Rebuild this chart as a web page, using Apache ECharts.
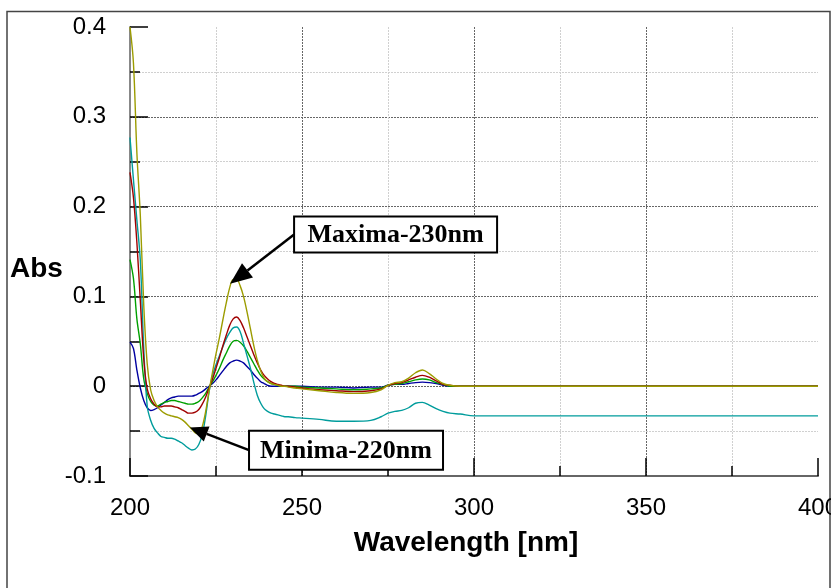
<!DOCTYPE html>
<html><head><meta charset="utf-8">
<script src="https://cdn.jsdelivr.net/npm/echarts@6/dist/echarts.min.js"></script>
<style>html,body{margin:0;padding:0;background:#fff}#c{width:831px;height:588px}</style>
</head><body><div id="c"></div>
<script>
// ---- data ----
const wavelengths = [200,201,202,203,204,205,206,207,208,209,210,211,212,213,214,215,216,217,218,219,220,221,222,223,224,225,226,227,228,229,230,231,232,233,234,235,236,237,238,239,240,241,242,243,244,245,246,
  248,250,255,260,265,270,273,275,277,279,281,283,285,287,289,291,293,296,300,325,350,375,400];
const blueAbs  = [0.049,0.042,0.018,-0.002,-0.016,-0.024,-0.027,-0.026,-0.024,-0.021,-0.018,-0.015,-0.013,-0.012,-0.011,-0.011,-0.011,-0.011,-0.011,-0.010,-0.008,-0.006,-0.003,0,0.003,0.007,0.012,0.017,0.022,0.026,0.028,0.029,0.028,0.026,0.022,0.018,0.013,0.009,0.005,0.003,0.001,0,0,0,0,0,0,
  0,0,-0.001,-0.001,-0.002,-0.001,-0.001,0.001,0.002,0.002,0.003,0.004,0.0045,0.004,0.003,0.001,0,0,0,0,0,0,0];
const greenAbs = [0.141,0.120,0.075,0.047,0.008,-0.008,-0.017,-0.021,-0.022,-0.020,-0.018,-0.017,-0.016,-0.016,-0.017,-0.018,-0.019,-0.020,-0.020,-0.019,-0.017,-0.013,-0.008,-0.001,0.005,0.012,0.020,0.029,0.037,0.045,0.050,0.051,0.049,0.045,0.039,0.032,0.025,0.018,0.012,0.008,0.005,0.003,0.002,0.001,0,0,0,
  0,-0.001,-0.002,-0.003,-0.004,-0.003,-0.002,0.001,0.002,0.003,0.005,0.007,0.008,0.007,0.004,0.002,0,0,0,0,0,0,0];
const tealAbs  = [0.277,0.230,0.185,0.140,0.042,-0.022,-0.038,-0.047,-0.052,-0.056,-0.057,-0.058,-0.058,-0.059,-0.061,-0.063,-0.066,-0.069,-0.071,-0.070,-0.065,-0.054,-0.033,-0.006,0.012,0.024,0.034,0.044,0.053,0.060,0.065,0.066,0.061,0.048,0.034,0.020,0.004,-0.010,-0.019,-0.025,-0.028,-0.030,-0.031,-0.032,-0.033,-0.034,-0.034,
  -0.035,-0.0355,-0.037,-0.039,-0.039,-0.038,-0.034,-0.030,-0.028,-0.027,-0.024,-0.019,-0.018,-0.021,-0.025,-0.028,-0.030,-0.031,-0.033,-0.033,-0.033,-0.033,-0.033];
const redAbs   = [0.238,0.210,0.160,0.095,0.030,-0.003,-0.014,-0.020,-0.023,-0.023,-0.022,-0.022,-0.022,-0.023,-0.024,-0.026,-0.028,-0.030,-0.030,-0.029,-0.026,-0.020,-0.012,-0.002,0.008,0.020,0.032,0.045,0.057,0.068,0.075,0.077,0.073,0.065,0.055,0.045,0.035,0.026,0.018,0.012,0.008,0.005,0.003,0.002,0.001,0,0,
  -0.001,-0.002,-0.004,-0.005,-0.006,-0.005,-0.003,0.001,0.003,0.004,0.007,0.010,0.012,0.010,0.006,0.002,0.001,0,0,0,0,0,0];
const oliveAbs = [0.400,0.360,0.260,0.190,0.090,0.025,-0.004,-0.016,-0.023,-0.027,-0.030,-0.032,-0.033,-0.034,-0.035,-0.037,-0.040,-0.044,-0.048,-0.052,-0.053,-0.045,-0.028,-0.005,0.016,0.036,0.054,0.074,0.093,0.110,0.119,0.119,0.112,0.100,0.083,0.064,0.045,0.029,0.017,0.009,0.005,0.003,0.002,0.001,0,0,-0.001,
  -0.002,-0.003,-0.005,-0.007,-0.008,-0.007,-0.004,0.001,0.004,0.005,0.009,0.015,0.018,0.014,0.008,0.003,0.001,0,0,0,0,0,0];
const seriesNames = ['S1','S2','S3','S4','S5'];
const xTickLabels = ['200','250','300','350','400'];
const yTickLabels = ['-0.1','0','0.1','0.2','0.3','0.4'];
const annotLabels = ['Maxima-230nm','Minima-220nm'];
const annotTips = [[229.1, 0.114],[217.4, -0.046]];
const annotBoxAnchors = [[247.7, 0.189],[234.6, -0.0495]];

// ---- styles ----
const colors = ['#0000a0','#00a000','#009c9c','#a00000','#9c9c00'];
const boxSizes = [[203,36],[194,39]];
const headSizes = [[22,9],[18,8]];
const xMin=200,xMax=400,xStep=50,yMin=-0.1,yMax=0.4,yStep=0.1;

const chart = echarts.init(document.getElementById('c'), null, {renderer:'canvas'});
const allVals = [blueAbs, greenAbs, tealAbs, redAbs, oliveAbs];
const series = allVals.map((vals,i)=>({
  name: seriesNames[i], type:'line', showSymbol:false, smooth:0.35,
  clip:true, lineStyle:{color:colors[i], width:1.4}, itemStyle:{color:colors[i]},
  data: wavelengths.map((w,k)=>[w, vals[k]]), z:2+i
}));

const gridLine = {show:true, showMaxLine:false, lineStyle:{color:'#666', width:1, type:[2,1]}};
const minorLine = {show:true, lineStyle:{color:'#d0d0d0', width:1, type:[2,1]}};

chart.setOption({
  animation:false,
  backgroundColor:'#fff',
  grid:{left:130, right:13, top:27, bottom:112, containLabel:false, outerBoundsMode:'none'},
  xAxis:{type:'value', min:xMin, max:xMax, interval:xStep,
    axisLine:{show:true, onZero:false, lineStyle:{color:'#666', width:2}},
    axisTick:{show:true, inside:true, length:18, lineStyle:{color:'#000', width:1.5}},
    minorTick:{show:true, splitNumber:2, length:10, lineStyle:{color:'#000', width:1.5}},
    splitLine:gridLine, minorSplitLine:minorLine,
    axisLabel:{margin:20, fontSize:24, color:'#000', fontFamily:'Liberation Sans, Arial',
      formatter:v=>xTickLabels[Math.round((v-xMin)/xStep)]}
  },
  yAxis:{type:'value', min:yMin, max:yMax, interval:yStep,
    axisLine:{show:true, onZero:false, lineStyle:{color:'#888', width:2}},
    axisTick:{show:true, inside:true, length:18, lineStyle:{color:'#000', width:1.5}},
    minorTick:{show:true, splitNumber:2, length:10, lineStyle:{color:'#000', width:1.5}},
    splitLine:gridLine, minorSplitLine:minorLine,
    axisLabel:{margin:24, fontSize:24, color:'#000', fontFamily:'Liberation Sans, Arial',
      formatter:v=>yTickLabels[Math.round((v-yMin)/yStep)]}
  },
  series
});

function buildGraphics(){
  const g = [];
  g.push({type:'rect', shape:{x:7, y:11.5, width:823, height:600}, style:{fill:null, stroke:'#444', lineWidth:1.5}, z:0, silent:true});
  g.push({type:'text', left:10, top:255, style:{text:'Abs', font:'bold 28px "Liberation Sans", Arial', fill:'#000'}, z:10});
  g.push({type:'text', x:466, y:543, style:{text:'Wavelength [nm]', font:'bold 28px "Liberation Sans", Arial', fill:'#000', align:'center', verticalAlign:'middle'}, z:10});
  annotLabels.forEach((lab,i)=>{
    const tl = chart.convertToPixel({gridIndex:0}, annotBoxAnchors[i]);
    const tip = chart.convertToPixel({gridIndex:0}, annotTips[i]);
    const [bw,bh] = boxSizes[i];
    const tail = [tl[0], tl[1]+bh/2];
    const dx = tip[0]-tail[0], dy = tip[1]-tail[1];
    const len = Math.hypot(dx,dy); const ux=dx/len, uy=dy/len;
    const [hl,hw] = headSizes[i];
    const bx = tip[0]-ux*hl, by = tip[1]-uy*hl;
    g.push({type:'line', shape:{x1:tail[0], y1:tail[1], x2:bx, y2:by}, style:{stroke:'#000', lineWidth:2.5}, z:20});
    g.push({type:'polygon', shape:{points:[[tip[0],tip[1]],[bx-uy*hw, by+ux*hw],[bx+uy*hw, by-ux*hw]]}, style:{fill:'#000'}, z:20});
    g.push({type:'rect', shape:{x:tl[0], y:tl[1], width:bw, height:bh}, style:{fill:'#fff', stroke:'#000', lineWidth:2}, z:21});
    g.push({type:'text', x:tl[0]+bw/2, y:tl[1]+bh/2+1, style:{text:lab, font:'bold 26px "Liberation Serif", "Times New Roman", serif', fill:'#000', align:'center', verticalAlign:'middle'}, z:22});
  });
  return g;
}
chart.setOption({graphic: buildGraphics()});
</script></body></html>
